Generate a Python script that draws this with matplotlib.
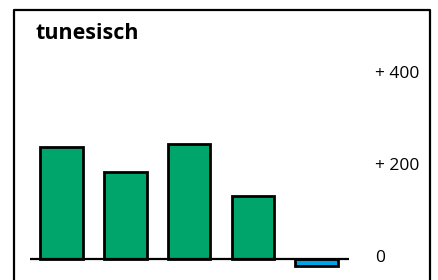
import matplotlib
matplotlib.use("Agg")
import matplotlib.pyplot as plt
import matplotlib.transforms as mtransforms
from matplotlib.lines import Line2D

# data
title = "tunesisch"
values = [243, 189, 250, 138, -15]
colors = ["#00a56b", "#00a56b", "#00a56b", "#00a56b", "#00a4e4"]
yticks = [0, 200, 400]
yticklabels = ["0", "+ 200", "+ 400"]

W, H = 438, 280
fig = plt.figure(figsize=(W / 100, H / 100), dpi=100)
fig.patch.set_facecolor("white")

# axes in pixel coordinates (left, bottom, width, height)
ax = fig.add_axes([29.6 / W, 0, 319 / W, 260 / H])
x = list(range(len(values)))
ax.bar(x, values, width=0.67, color=colors, edgecolor="black", linewidth=2, zorder=2)
ax.axhline(0, color="black", linewidth=1.6, zorder=3)

ax.set_xlim(-0.5, 4.5)
ax.set_ylim(-45, 520)
ax.set_xticks([])
ax.set_yticks([])
for s in ax.spines.values():
    s.set_visible(False)
ax.patch.set_alpha(0)

# value labels on the right, slightly above their gridline position
trans = mtransforms.blended_transform_factory(fig.transFigure, ax.transData)
trans = mtransforms.offset_copy(trans, fig=fig, y=3.5, units="dots")
for v, lbl in zip(yticks, yticklabels):
    ax.text(375 / W, v, lbl, transform=trans, fontsize=12.5, fontfamily="Open Sans",
            va="center_baseline", ha="left", clip_on=False)

# outer frame (open at the bottom)
fx = [14 / W, 14 / W, 430 / W, 430 / W]
fy = [0, (H - 10) / H, (H - 10) / H, 0]
fig.add_artist(Line2D(fx, fy, transform=fig.transFigure, color="black", linewidth=1.6))

fig.text(36 / W, (H - 39) / H, title, fontsize=15.5, fontweight="bold",
         fontfamily="Open Sans", va="baseline", ha="left")

fig.savefig("out.png", dpi=100)
